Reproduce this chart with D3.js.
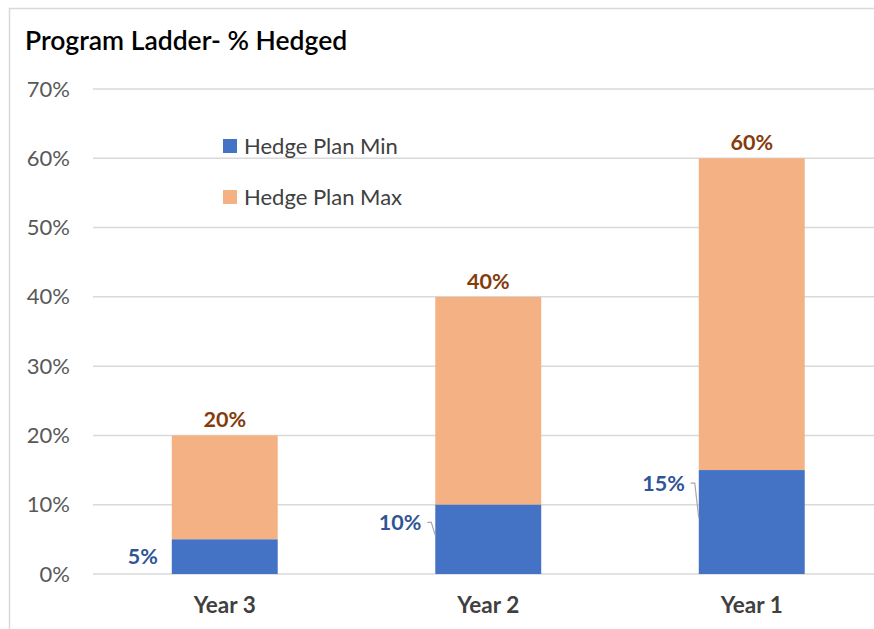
<!DOCTYPE html>
<html>
<head>
<meta charset="utf-8">
<script src="https://cdn.jsdelivr.net/npm/d3@7"></script>
<style>
  html, body { margin: 0; padding: 0; background: #fff; }
  svg { display: block; font-family: Lato, "Open Sans", sans-serif; }
</style>
</head>
<body>
<svg id="chart" width="874" height="629"></svg>
<script>
// ---- data ----
const title = "Program Ladder- % Hedged";
const categories = ["Year 3", "Year 2", "Year 1"];
const hedgeMin = [0.05, 0.10, 0.15];
const hedgeMax = [0.20, 0.40, 0.60];
const seriesNames = ["Hedge Plan Min", "Hedge Plan Max"];
const yTicks = [0, 0.1, 0.2, 0.3, 0.4, 0.5, 0.6, 0.7];

// ---- layout / style (not data) ----
const W = 874, H = 629;
const colors = { min: "#4472C4", max: "#F4B183", minLabel: "#2F5597", maxLabel: "#843C0C" };
// label displacement (Excel-style manual label moves) in px: [dx, dy] relative to default position
const minLabelShift = [[0, 0], [0, -17], [0, -39]];

const svg = d3.select("#chart");
svg.append("rect").attr("width", W).attr("height", H).attr("fill", "#fff");
// chart border
svg.append("rect").attr("x", 9.5).attr("y", 8.5).attr("width", W + 20).attr("height", H + 20)
  .attr("fill", "none").attr("stroke", "#d9d9d9").attr("stroke-width", 1.5);

const x = d3.scaleBand().domain(categories).range([93, 883.5]).paddingInner(0.598).paddingOuter(0.299);
const y = d3.scaleLinear().domain([0, 0.7]).range([574, 89]);

// title
svg.append("text").attr("x", 25).attr("y", 50).text(title)
  .attr("font-size", 26.5).attr("font-weight", 600).attr("fill", "#000");

// gridlines
svg.append("g").selectAll("line").data(yTicks).join("line")
  .attr("x1", 93).attr("x2", W).attr("y1", d => y(d)).attr("y2", d => y(d))
  .attr("stroke", "#d9d9d9").attr("stroke-width", 1.5);

// y axis labels
const yAxis = d3.axisLeft(y).tickValues(yTicks).tickFormat(d3.format(".0%")).tickSize(0).tickPadding(0);
const gy = svg.append("g").attr("transform", "translate(70,0)").call(yAxis);
gy.select(".domain").remove();
gy.selectAll("text").attr("font-size", 22).attr("fill", "#595959").attr("font-family", "Lato, sans-serif");

// x axis labels
const xAxis = d3.axisBottom(x).tickSize(0).tickPadding(0);
const gx = svg.append("g").attr("transform", "translate(0,597)").call(xAxis);
gx.select(".domain").remove();
gx.selectAll("text").attr("font-size", 22.5).attr("font-weight", 700).attr("fill", "#404040").attr("font-family", "Lato, sans-serif");

const rows = categories.map((c, i) => ({ c, min: hedgeMin[i], max: hedgeMax[i], i }));

// bars: max segment stacked above min
svg.append("g").selectAll("rect").data(rows).join("rect")
  .attr("x", d => x(d.c)).attr("width", x.bandwidth())
  .attr("y", d => y(d.max)).attr("height", d => y(d.min) - y(d.max))
  .attr("fill", colors.max);
svg.append("g").selectAll("rect").data(rows).join("rect")
  .attr("x", d => x(d.c)).attr("width", x.bandwidth())
  .attr("y", d => y(d.min)).attr("height", d => y(0) - y(d.min))
  .attr("fill", colors.min);

const pct = d3.format(".0%");

// max labels
svg.append("g").selectAll("text").data(rows).join("text")
  .attr("x", d => x(d.c) + x.bandwidth() / 2).attr("y", d => y(d.max) - 8)
  .attr("text-anchor", "middle").attr("font-size", 21.5).attr("font-weight", 700)
  .attr("fill", colors.maxLabel).text(d => pct(d.max));

// min labels (to the left of the bar, moved up where needed, with leader lines)
const gl = svg.append("g");
rows.forEach((d, i) => {
  const [dx, dy] = minLabelShift[i];
  const bx = x(d.c);
  const segMid = (y(d.min) + y(0)) / 2;
  const ly = segMid + dy;
  const lx = bx - 14 + dx;
  gl.append("text").attr("x", lx).attr("y", ly).attr("dy", "0.35em")
    .attr("text-anchor", "end").attr("font-size", 21.5).attr("font-weight", 700)
    .attr("fill", colors.minLabel).text(pct(d.min));
  if (dy !== 0) {
    gl.append("polyline")
      .attr("points", `${lx + 6},${ly} ${bx - 4},${ly} ${bx},${segMid - 4}`)
      .attr("fill", "none").attr("stroke", "#a6a6a6").attr("stroke-width", 1.2);
  }
});

// legend
const legend = svg.append("g");
const legendItems = [{ name: seriesNames[0], color: colors.min, cy: 146 }, { name: seriesNames[1], color: colors.max, cy: 197 }];
legendItems.forEach(it => {
  legend.append("rect").attr("x", 223).attr("y", it.cy - 7).attr("width", 14).attr("height", 14).attr("fill", it.color);
  legend.append("text").attr("x", 244).attr("y", it.cy).attr("dy", "0.35em")
    .attr("font-size", 22).attr("fill", "#404040").text(it.name);
});
</script>
</body>
</html>
